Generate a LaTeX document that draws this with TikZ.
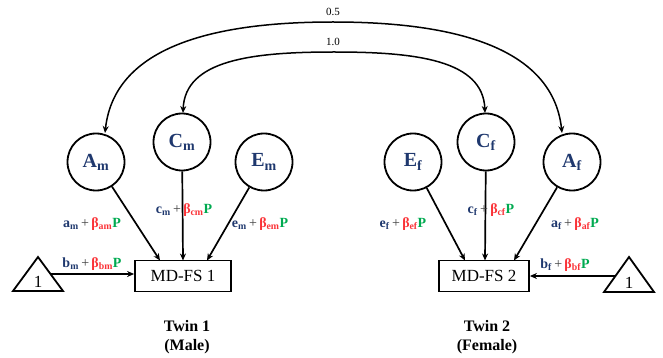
\documentclass[tikz,border=0pt]{standalone}
\usepackage{fontspec}
\setmainfont{Liberation Serif}
\usetikzlibrary{arrows.meta}
\definecolor{navyc}{RGB}{31,56,110}
\definecolor{redc}{RGB}{250,50,55}
\definecolor{greenc}{RGB}{0,170,80}
\newcommand{\pl}[3]{\textcolor{navyc}{#1\textsubscript{#2}}\,\textcolor{black!75}{\mdseries+}\,\textcolor{redc}{β\textsubscript{#3}}\textcolor{greenc}{P}}
\tikzset{
  latent/.style={circle,draw,line width=1.8pt,minimum size=57pt,inner sep=0pt,text=navyc,font=\fontsize{20}{22}\selectfont\bfseries},
  obsbox/.style={rectangle,draw,line width=1.8pt,minimum width=96pt,minimum height=31pt,inner sep=0pt,font=\fontsize{17}{19}\selectfont},
  pathlbl/.style={font=\fontsize{14}{16}\selectfont\bfseries,inner sep=0pt},
  arr/.style={line width=1.7pt,-{Stealth[length=7pt,width=6pt]}},
  covarr/.style={line width=1.5pt,-{Stealth[length=7pt,width=6pt]}},
  twinlbl/.style={font=\fontsize{16}{19}\selectfont\bfseries,align=center},
  numlbl/.style={font=\fontsize{11}{13}\selectfont}
}
\begin{document}
\begin{tikzpicture}[x=1pt,y=-1pt]
\useasboundingbox (0,0) rectangle (663,358);
% latent factors
\node[latent] (Am) at (96,162) {A\textsubscript{m}};
\node[latent] (Cm) at (182,142) {C\textsubscript{m}};
\node[latent] (Em) at (264,162) {E\textsubscript{m}};
\node[latent] (Ef) at (413,162) {E\textsubscript{f}};
\node[latent] (Cf) at (486,142) {C\textsubscript{f}};
\node[latent] (Af) at (572,162) {A\textsubscript{f}};
% observed
\node[obsbox] (B1) at (183,276) {MD-FS 1};
\node[obsbox,minimum width=90pt] (B2) at (484,276) {MD-FS 2};
% triangles
\draw[line width=1.8pt,line join=miter] (13,291) -- (38,257) -- (63,291) -- cycle;
\draw[line width=1.8pt,line join=miter] (604,292) -- (629,257) -- (654,292) -- cycle;
\node[font=\fontsize{17}{19}\selectfont] (T1) at (38,282) {1};
\node[font=\fontsize{17}{19}\selectfont] (T2) at (629,283) {1};
\coordinate (t1e) at (50,274);
\coordinate (t2e) at (615,276);
% arrow targets on boxes
\coordinate (b1a) at (160,260.5);
\coordinate (b1c) at (183,260.5);
\coordinate (b1e) at (207,260.5);
\coordinate (b2e) at (465,260.5);
\coordinate (b2c) at (485,260.5);
\coordinate (b2a) at (514,260.5);
% paths
\draw[arr] (Am) -- (b1a);
\draw[arr] (Cm) -- (b1c);
\draw[arr] (Em) -- (b1e);
\draw[arr] (Ef) -- (b2e);
\draw[arr] (Cf) -- (b2c);
\draw[arr] (Af) -- (b2a);
\draw[arr] (t1e) -- (B1.west |- t1e);
\draw[arr] (t2e) -- (B2.east |- t2e);
% path labels
\node[pathlbl] (lam) at (92,224) {\pl{a}{m}{am}};
\node[pathlbl] (lcm) at (184,210) {\pl{c}{m}{cm}};
\node[pathlbl] (lem) at (260,224) {\pl{e}{m}{em}};
\node[pathlbl] (lef) at (403,224) {\pl{e}{f}{ef}};
\node[pathlbl] (lcf) at (491,210) {\pl{c}{f}{cf}};
\node[pathlbl] (laf) at (575,224) {\pl{a}{f}{af}};
\node[pathlbl] (lbm) at (92,264) {\pl{b}{m}{bm}};
\node[pathlbl] (lbf) at (565,265) {\pl{b}{f}{bf}};
% covariance arcs
\coordinate (amt) at (105,133);
\coordinate (aft) at (562,133);
\coordinate (cmt) at (183,113);
\coordinate (cft) at (485,113);
\draw[covarr] (333,22) .. controls (230,22) and (115,40) .. (amt);
\draw[covarr] (333,22) .. controls (436,22) and (552,40) .. (aft);
\draw[covarr] (334,52) .. controls (252,52) and (185,60) .. (cmt);
\draw[covarr] (334,52) .. controls (416,52) and (483,60) .. (cft);
\node[numlbl] (l05) at (333,12) {0.5};
\node[numlbl] (l10) at (333,42) {1.0};
% twin labels
\node[twinlbl] (tw1) at (187,337) {Twin 1\\(Male)};
\node[twinlbl] (tw2) at (487,337) {Twin 2\\(Female)};
\end{tikzpicture}
\end{document}
